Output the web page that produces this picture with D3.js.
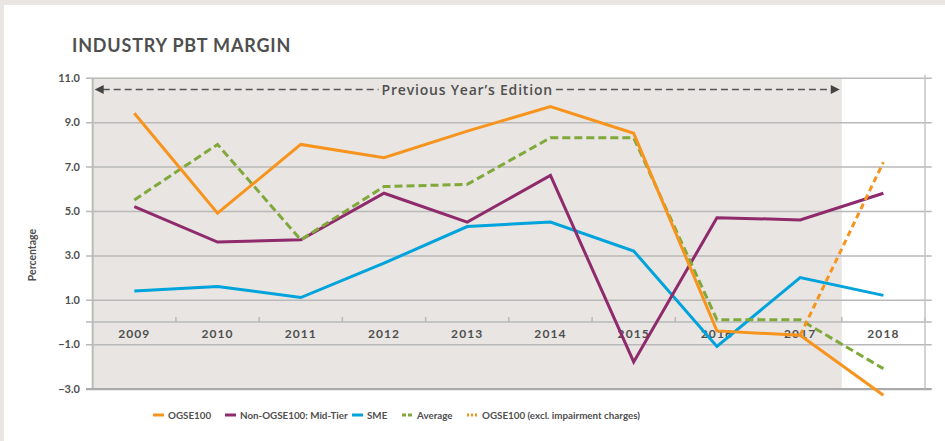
<!DOCTYPE html>
<html><head><meta charset="utf-8">
<script src="https://cdn.jsdelivr.net/npm/d3@7/dist/d3.min.js"></script>
<style>
body{margin:0;padding:0;background:#fff;}
svg{display:block;font-family:"Lato","Open Sans",sans-serif;}
</style></head>
<body>
<svg id="c" width="945" height="441"></svg>
<script>
const years = ["2009","2010","2011","2012","2013","2014","2015","2016","2017","2018"];
const yTicks = [11, 9, 7, 5, 3, 1, -1, -3];
const ogse100 = [9.4, 4.9, 8.0, 7.4, 8.6, 9.7, 8.5, -0.4, -0.6, -3.3];
const midTier = [5.2, 3.6, 3.7, 5.8, 4.5, 6.6, -1.8, 4.7, 4.6, 5.8];
const sme = [1.4, 1.6, 1.1, 2.65, 4.3, 4.5, 3.2, -1.1, 2.0, 1.2];
const average = [5.5, 8.0, 3.7, 6.1, 6.2, 8.3, 8.3, 0.1, 0.1, -2.1];
const ogseExclYears = ["2017","2018"];
const ogseExcl = [-0.6, 7.2];
const previousEditionYears = ["2009","2017"];
const legendLabels = ["OGSE100","Non-OGSE100: Mid-Tier","SME","Average","OGSE100 (excl. impairment charges)"];

const svg = d3.select("#c");
const W = 945, H = 441;
const m = {left: 92.7, right: 925, top: 77.8, bottom: 388.6};
const txt = "#4f4f4f";
const gridC = "#b9b9b9";
const gridL = 86, gridR = 931.7;

// outer frame
svg.append("rect").attr("x",0).attr("y",0).attr("width",W).attr("height",H).attr("fill","#e9e6e3");
svg.append("rect").attr("x",4).attr("y",5).attr("width",W-4).attr("height",H-5).attr("fill","#fff");

const x = d3.scaleBand().domain(years).range([m.left, m.right]).padding(0);
const y = d3.scaleLinear().domain([-3, 11]).range([m.bottom, m.top]);
const cx = d => x(d) + x.bandwidth()/2;

// grey previous-year region
svg.append("rect")
  .attr("x", x(previousEditionYears[0]))
  .attr("y", y(11))
  .attr("width", x(previousEditionYears[1]) + x.bandwidth() - x(previousEditionYears[0]))
  .attr("height", y(-3) - y(11))
  .attr("fill", "#e8e5e2");

// title
svg.append("text").attr("x",72).attr("y",52).attr("fill",txt)
  .attr("font-size",18).attr("font-weight",700).attr("letter-spacing",0.8)
  .attr("font-family","Lato, sans-serif")
  .text("INDUSTRY PBT MARGIN");

// y gridlines & labels
const yAxis = d3.axisLeft(y).tickValues(yTicks).tickFormat(d3.format(".1f"))
  .tickSize(0).tickPadding(6);
const gy = svg.append("g").attr("transform",`translate(${gridL},0)`).call(yAxis);
gy.select(".domain").remove();
gy.selectAll(".tick line").attr("x1",0).attr("x2",gridR-gridL)
  .attr("stroke",gridC).attr("stroke-width",1.5);
gy.selectAll(".tick text").attr("fill",txt).attr("font-size",11).attr("font-weight",700)
  .attr("font-family","Lato, sans-serif");
gy.selectAll(".tick").filter(d => d === -3).select("line").attr("stroke","#aaa").attr("stroke-width",2.2);

// zero line with band ticks
const gx = svg.append("g").attr("transform",`translate(0,${y(0)})`)
  .call(d3.axisBottom(x).tickSize(0).tickPadding(7.5));
gx.select(".domain").remove();
gx.selectAll(".tick text").attr("fill",txt).attr("font-size",12).attr("font-weight",700)
  .attr("letter-spacing",1.1).attr("font-family","Lato, sans-serif");
svg.append("line").attr("x1",gridL).attr("x2",gridR).attr("y1",y(0)).attr("y2",y(0))
  .attr("stroke",gridC).attr("stroke-width",1.5);
const bounds = years.slice(1).map(d => x(d)).concat([x(years[years.length-1]) + x.bandwidth()]);
svg.selectAll(".bt").data(bounds).enter().append("line")
  .attr("x1",d=>d).attr("x2",d=>d).attr("y1",y(0)).attr("y2",y(0)-5)
  .attr("stroke",gridC).attr("stroke-width",1.5);

// left and right vertical lines
svg.append("line").attr("x1",m.left).attr("x2",m.left).attr("y1",y(11)).attr("y2",y(-3))
  .attr("stroke","#bbb").attr("stroke-width",2);
svg.append("line").attr("x1",m.right).attr("x2",m.right).attr("y1",y(11)-3).attr("y2",y(-3))
  .attr("stroke","#c4c4c4").attr("stroke-width",1.5);

// previous year's edition arrow
const ay = 89.5;
const ax1 = x(previousEditionYears[0]) + 2, ax2 = x(previousEditionYears[1]) + x.bandwidth() - 2;
const midX = (ax1 + ax2)/2;
const label = svg.append("text").attr("x",midX).attr("y",ay+5).attr("text-anchor","middle")
  .attr("fill",txt).attr("font-size",14).attr("font-weight",600).attr("letter-spacing",0.8)
  .attr("font-family","Open Sans, sans-serif")
  .text("Previous Year\u2019s Edition");
const tw = label.node().getComputedTextLength();
svg.append("line").attr("x1",ax1+8).attr("x2",midX - tw/2 - 3).attr("y1",ay).attr("y2",ay)
  .attr("stroke","#555").attr("stroke-width",1.3).attr("stroke-dasharray","7,4");
svg.append("line").attr("x1",midX + tw/2 + 3).attr("x2",ax2-8).attr("y1",ay).attr("y2",ay)
  .attr("stroke","#555").attr("stroke-width",1.3).attr("stroke-dasharray","7,4");
svg.append("path").attr("d",`M${ax1},${ay}L${ax1+9},${ay-4.5}L${ax1+9},${ay+4.5}Z`).attr("fill","#444");
svg.append("path").attr("d",`M${ax2},${ay}L${ax2-9},${ay-4.5}L${ax2-9},${ay+4.5}Z`).attr("fill","#444");

// series
const line = d3.line().x(d => cx(d[0])).y(d => y(d[1]));
const series = [
  {vals: sme, yrs: years, color:"#00a3db", dash:null},
  {vals: midTier, yrs: years, color:"#8f2a6c", dash:null},
  {vals: average, yrs: years, color:"#80a83a", dash:"8,4"},
  {vals: ogse100, yrs: years, color:"#f7941d", dash:null},
  {vals: ogseExcl, yrs: ogseExclYears, color:"#f7941d", dash:"6,4"}
];
series.forEach(s => {
  svg.append("path").datum(s.yrs.map((yr,i)=>[yr, s.vals[i]]))
    .attr("d", line).attr("fill","none").attr("stroke", s.color)
    .attr("stroke-width",3).attr("stroke-linejoin","miter")
    .attr("stroke-dasharray", s.dash);
});

// legend
const legend = [
  {label: legendLabels[0], color:"#f7941d", dash:null, x:153},
  {label: legendLabels[1], color:"#8f2a6c", dash:null, x:225},
  {label: legendLabels[2], color:"#00a3db", dash:null, x:352},
  {label: legendLabels[3], color:"#80a83a", dash:"4,2", x:402},
  {label: legendLabels[4], color:"#f7941d", dash:"2,2", x:467}
];
const ly = 415;
legend.forEach(l => {
  svg.append("line").attr("x1",l.x).attr("x2",l.x+11).attr("y1",ly).attr("y2",ly)
    .attr("stroke",l.color).attr("stroke-width",3).attr("stroke-dasharray",l.dash);
  svg.append("text").attr("x",l.x+15).attr("y",ly+3.6).attr("fill",txt)
    .attr("font-size",9.8).attr("font-weight",700).attr("font-family","Lato, sans-serif")
    .text(l.label);
});

// y axis title
svg.append("text").attr("transform","translate(36,255) rotate(-90)").attr("text-anchor","middle")
  .attr("fill",txt).attr("font-size",10.5).attr("font-weight",700).attr("font-family","Lato, sans-serif")
  .text("Percentage");
</script>
</body></html>
